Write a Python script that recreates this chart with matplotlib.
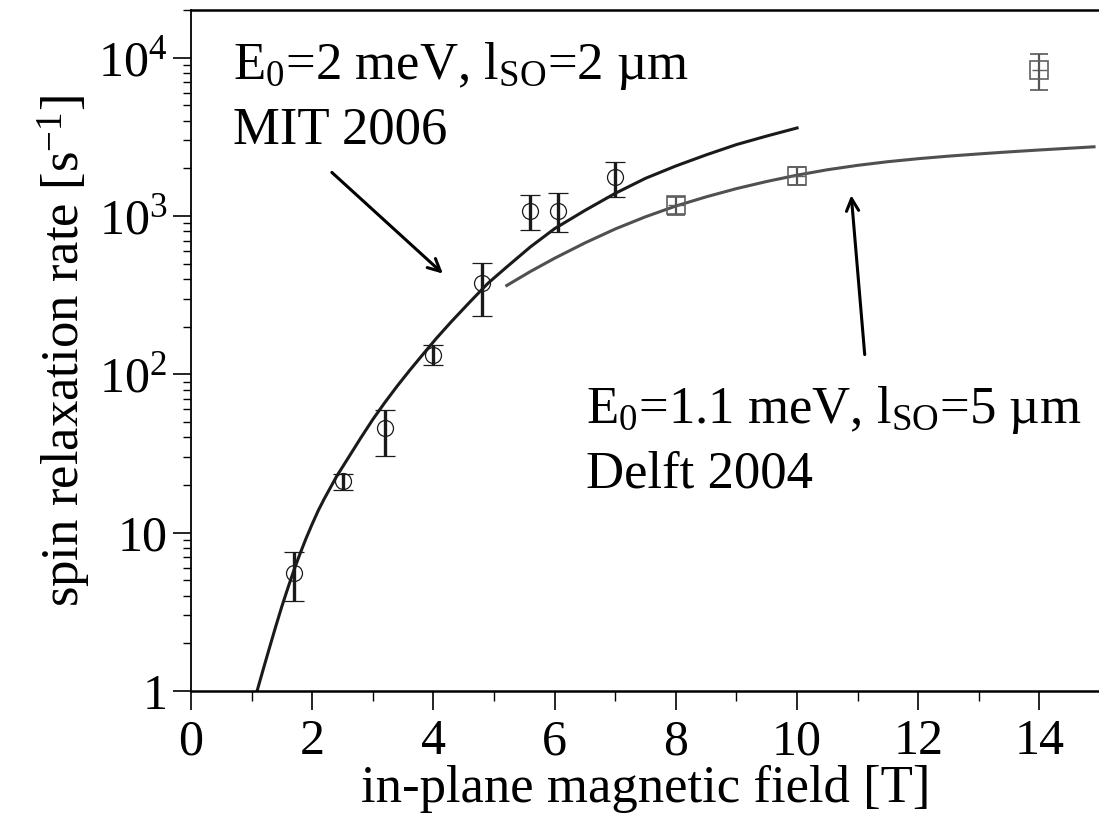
import numpy as np
import matplotlib
matplotlib.use('Agg')
import matplotlib.pyplot as plt
from matplotlib.ticker import FixedLocator, NullFormatter, MultipleLocator

plt.rcParams['font.family'] = ['Liberation Serif', 'DejaVu Serif']
plt.rcParams['mathtext.fontset'] = 'custom'
plt.rcParams['mathtext.rm'] = 'Liberation Serif'
plt.rcParams['mathtext.it'] = 'Liberation Serif:italic'
plt.rcParams['mathtext.bf'] = 'Liberation Serif:bold'

# MIT 2006 data (circles)
mit_field = [1.7, 2.5, 3.2, 4.0, 4.8, 5.6, 6.05, 7.0]
mit_rate = [5.6, 21.1, 45.7, 132, 378, 1083, 1083, 1775]
mit_low = [3.7, 18.7, 30.7, 113.8, 234, 811, 798, 1327]
mit_high = [7.6, 23.4, 59.3, 153.5, 507, 1361, 1393, 2208]

# Delft 2004 data (squares)
delft_field = [8.0, 10.0, 14.0]
delft_rate = [1175, 1800, 8340]
delft_low = [1021, 1574, 6250]
delft_high = [1314, 2032, 10550]

# theory curves
mit_curve_b = [1.09, 1.2, 1.3, 1.4, 1.5, 1.6, 1.7, 1.8, 1.9, 2.0, 2.1, 2.2,
               2.4, 2.6, 2.8, 3.0, 3.2, 3.4, 3.6, 3.8, 4.05, 4.3, 4.6, 4.9,
               5.2, 5.6, 6.0, 6.5, 7.0, 7.5, 8.0, 8.5, 9.0, 9.5, 10.0]
mit_curve_rate = [1.0, 1.406, 1.905, 2.57, 3.43, 4.49, 5.82, 7.38, 9.23, 11.35,
                  13.8, 16.4, 22.6, 29.9, 39.6, 51.9, 66.5, 84.1, 105, 130,
                  169, 216, 286, 376, 473, 638, 832, 1084, 1390, 1730, 2070,
                  2432, 2825, 3199, 3597]
delft_curve_b = [5.21, 5.6, 6.0, 6.5, 7.0, 7.5, 8.0, 8.5, 9.0, 9.5, 10.0, 10.5,
                 11.0, 11.5, 12.0, 12.5, 13.0, 13.5, 14.0, 14.9]
delft_curve_rate = [364, 446, 541, 676, 828, 989, 1156, 1321, 1489, 1652, 1811,
                    1959, 2089, 2203, 2301, 2388, 2466, 2541, 2612, 2735]

x_ticks = [0, 2, 4, 6, 8, 10, 12, 14]
y_ticks = [1, 10, 100, 1000, 10000]
y_tick_labels = ['1', '10', r'$\mathregular{10^{2}}$', r'$\mathregular{10^{3}}$',
                 r'$\mathregular{10^{4}}$']

fig = plt.figure(figsize=(10.99, 8.19), dpi=100)
ax = fig.add_axes([0.1738, 0.1563, 0.8272, 0.8315])

ax.plot(mit_curve_b, mit_curve_rate, color='#1a1a1a', lw=2.2, zorder=2,
        solid_joinstyle='round')
ax.plot(delft_curve_b, delft_curve_rate, color='#505050', lw=2.2, zorder=2,
        solid_joinstyle='round')

mit_err = [np.array(mit_rate) - np.array(mit_low), np.array(mit_high) - np.array(mit_rate)]
ax.errorbar(mit_field, mit_rate, yerr=mit_err, fmt='o', mfc='none', mec='#1a1a1a',
            mew=0.9, ms=11.5, ecolor='#1a1a1a', elinewidth=2.4, capsize=7,
            capthick=2.4, zorder=3)

delft_err = [np.array(delft_rate) - np.array(delft_low),
             np.array(delft_high) - np.array(delft_rate)]
ax.errorbar(delft_field, delft_rate, xerr=0.13, fmt='none', ecolor='#606060',
            elinewidth=1.0, capsize=0, zorder=3)
ax.errorbar(delft_field, delft_rate, yerr=delft_err, fmt='s', mfc='none', mec='#606060',
            mew=1.2, ms=13, ecolor='#555555', elinewidth=1.6, capsize=6.5,
            capthick=2.4, zorder=3)

ax.set_yscale('log')
ax.set_xlim(0, 15)
ax.set_ylim(1, 2e4)

ax.xaxis.set_major_locator(FixedLocator(x_ticks))
ax.xaxis.set_minor_locator(MultipleLocator(1))
ax.set_yticks(y_ticks)
ax.set_yticklabels(y_tick_labels)
ax.yaxis.set_minor_formatter(NullFormatter())

ax.tick_params(axis='both', which='major', labelsize=36, direction='out', width=1.2)
ax.tick_params(axis='x', which='major', length=14, pad=6)
ax.tick_params(axis='x', which='minor', length=7, width=1.0, direction='out')
ax.tick_params(axis='y', which='major', length=13, pad=4)
ax.tick_params(axis='y', which='minor', length=6, width=1.0, direction='out')

ax.spines['right'].set_visible(False)
ax.spines['left'].set_linewidth(1.3)
ax.spines['bottom'].set_linewidth(1.8)
ax.spines['top'].set_linewidth(1.8)

ax.set_xlabel('in-plane magnetic field [T]', fontsize=38, labelpad=0)
ax.set_ylabel(r'spin relaxation rate [s$^{\mathregular{-1}}$]', fontsize=38, labelpad=4)

ax.text(0.69, 7380, r'E$_\mathregular{0}$=2 meV, l$_\mathregular{SO}$=2 µm', fontsize=38,
        ha='left', va='baseline')
ax.text(0.69, 2866, 'MIT 2006', fontsize=38, ha='left', va='baseline')
ax.text(6.52, 49, r'E$_\mathregular{0}$=1.1 meV, l$_\mathregular{SO}$=5 µm', fontsize=38,
        ha='left', va='baseline')
ax.text(6.52, 19.4, 'Delft 2004', fontsize=38, ha='left', va='baseline')

ax.annotate('', xy=(4.19, 421), xytext=(2.29, 1937),
            arrowprops=dict(arrowstyle='->', lw=2.2, color='black', mutation_scale=22))
ax.annotate('', xy=(10.89, 1407), xytext=(11.12, 128),
            arrowprops=dict(arrowstyle='->', lw=2.2, color='black', mutation_scale=22))

fig.savefig('out.png', dpi=100)
